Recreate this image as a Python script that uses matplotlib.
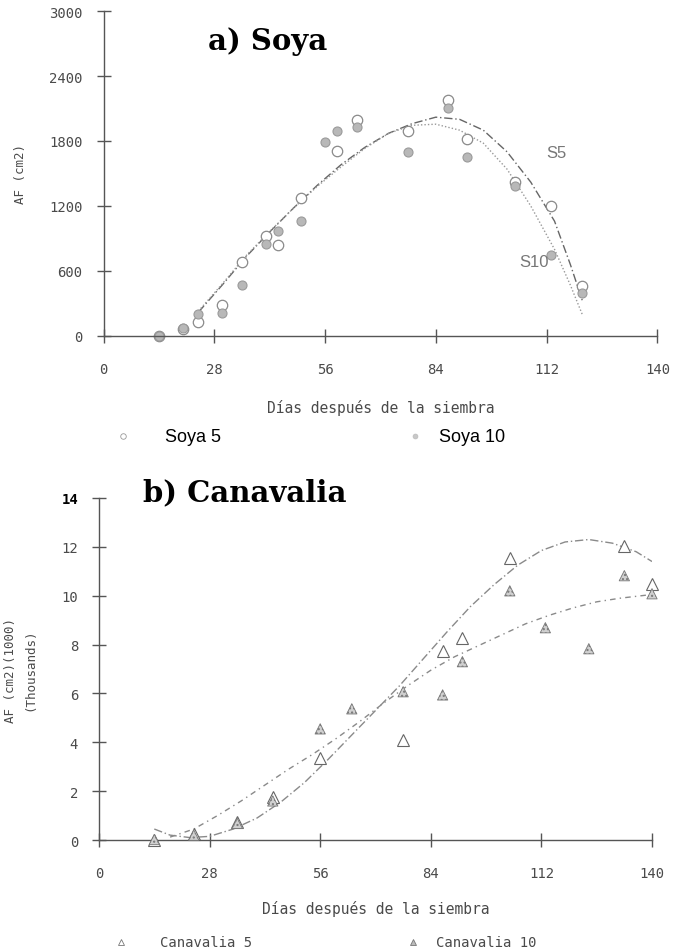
import numpy as np
import matplotlib.pyplot as plt
from matplotlib.lines import Line2D

# %% data
soya_dias = [14, 20, 24, 30, 35, 41, 44, 50, 56, 59, 64, 77, 87, 92, 104, 113, 121]
soya5 = [0, 60, 128, 285, 679, 927, 844, 1275, np.nan, 1706, 1995, 1890, 2183, 1816, 1422, 1202, 459]
soya10 = [0, 73, 202, 211, 468, 853, 972, 1064, 1789, 1890, 1927, 1697, 2101, 1651, 1385, 743, 394]

# fitted curves as drawn in the reference
s_fit_x = [24, 30, 36, 42, 48, 54, 60, 66, 72, 78, 84, 90, 96, 102, 108, 114, 118, 121]
s5_fit = [220, 470, 730, 960, 1180, 1390, 1580, 1740, 1870, 1960, 2020, 2000, 1900, 1700, 1420, 1060, 660, 330]
s10_fit = [230, 480, 740, 965, 1180, 1380, 1560, 1730, 1870, 1945, 1955, 1900, 1780, 1540, 1200, 800, 470, 200]

cana_dias = [14, 24, 35, 44, 56, 64, 77, 87, 92, 104, 113, 124, 133, 140]
cana5 = [0.0, 0.25, 0.75, 1.75, 3.36, np.nan, 4.1, 7.75, 8.28, 11.55, np.nan, np.nan, 12.05, 10.49]
cana10 = [0.02, 0.2, 0.68, 1.6, 4.55, 5.37, 6.07, 5.94, 7.3, 10.2, 8.69, 7.83, 10.82, 10.08]

c5_fit_x = [14, 18, 23, 28, 34, 40, 46, 52, 58, 64, 70, 76, 82, 88, 94, 100, 106, 112, 118, 124, 130, 136, 140]
c5_fit = [0.45, 0.2, 0.1, 0.15, 0.45, 0.9, 1.55, 2.35, 3.3, 4.3, 5.3, 6.3, 7.4, 8.5, 9.55, 10.45, 11.25,
          11.85, 12.2, 12.3, 12.15, 11.8, 11.4]
c10_fit_x = [18, 24, 30, 36, 42, 48, 54, 60, 66, 72, 78, 84, 90, 96, 102, 108, 114, 120, 126, 132, 140]
c10_fit = [0.12, 0.45, 1.0, 1.6, 2.25, 2.9, 3.5, 4.15, 4.85, 5.6, 6.3, 6.95, 7.5, 7.95, 8.4, 8.85, 9.2,
           9.5, 9.75, 9.9, 10.05]

x_ticks = [0, 28, 56, 84, 112, 140]
soya_yticks = [0, 600, 1200, 1800, 2400, 3000]
cana_yticks = [0, 2, 4, 6, 8, 10, 12, 14]

mono = 'DejaVu Sans Mono'
txt_col = '#4a4a4a'


def style_axes(ax):
    for s in ['top', 'right']:
        ax.spines[s].set_visible(False)
    for s in ['left', 'bottom']:
        ax.spines[s].set_color('#555555')
        ax.spines[s].set_linewidth(1.0)
    ax.tick_params(direction='inout', length=10, width=1, color='#555555',
                   labelsize=10, labelcolor=txt_col, pad=10)
    ax.tick_params(axis='x', pad=14)
    for lab in ax.get_xticklabels() + ax.get_yticklabels():
        lab.set_family(mono)
    ax.set_xlim(0, 140)
    ax.set_xticks(x_ticks)


fig = plt.figure(figsize=(6.73, 9.53), dpi=100)

# %% a) Soya
ax1 = fig.add_axes([0.1538, 0.6464, 0.823, 0.341])
ax1.plot(s_fit_x, s5_fit, color='#666666', lw=1.0, ls=(0, (6, 2, 1, 2)))
ax1.plot(s_fit_x, s10_fit, color='#999999', lw=1.0, ls=(0, (1, 1.5)))
ax1.plot(soya_dias, soya5, 'o', ms=7.5, mfc='white', mec='#8a8a8a', mew=0.9, clip_on=False)
ax1.plot(soya_dias, soya10, 'o', ms=6.5, mfc='#b8b8b8', mec='#9a9a9a', mew=0.8, clip_on=False)
ax1.set_ylim(0, 3000)
ax1.set_yticks(soya_yticks)
style_axes(ax1)
ax1.set_ylabel('AF (cm2)', family=mono, fontsize=9, color=txt_col, labelpad=16)
ax1.set_xlabel('Días después de la siembra', family=mono, fontsize=10.5, color=txt_col, labelpad=16)
ax1.text(112, 1650, 'S5', fontsize=12, color='#777777', family='Liberation Sans')
ax1.text(105, 650, 'S10', fontsize=12, color='#777777', family='Liberation Sans')
fig.text(0.398, 0.956, 'a) Soya', family='DejaVu Serif', fontweight='bold', fontsize=21,
         ha='center', va='center')

# legend a
fig.add_artist(Line2D([0.183], [1 - 437 / 953], marker='o', ms=4, mfc='white', mec='#999999',
                      mew=0.6, transform=fig.transFigure))
fig.text(0.245, 1 - 438 / 953, 'Soya 5', fontsize=13, family='Liberation Sans', va='center')
fig.add_artist(Line2D([0.617], [1 - 437 / 953], marker='o', ms=3.5, mfc='#c8c8c8', mec='#bbbbbb',
                      mew=0.5, transform=fig.transFigure))
fig.text(0.653, 1 - 438 / 953, 'Soya 10', fontsize=13, family='Liberation Sans', va='center')

# %% b) Canavalia
ax2 = fig.add_axes([0.1471, 0.1175, 0.8217, 0.3589])
ax2.plot(c5_fit_x, c5_fit, color='#8a8a8a', lw=1.0, ls=(0, (6, 2, 1, 2)))
ax2.plot(c10_fit_x, c10_fit, color='#8a8a8a', lw=1.0, ls=(0, (4, 3, 1, 3)))
ax2.plot(cana_dias, cana5, '^', ms=9, mfc='white', mec='#666666', mew=0.8, clip_on=False)
ax2.scatter(cana_dias, cana10, marker='^', s=55, facecolor='#d0d0d0', edgecolor='#777777',
            hatch='....', linewidths=0.6, clip_on=False, zorder=3)
ax2.set_ylim(0, 14)
ax2.set_yticks(cana_yticks)
style_axes(ax2)
ax2.get_yticklabels()[-1].set_color('black')
ax2.get_yticklabels()[-1].set_fontweight('bold')
ax2.set_ylabel('AF (cm2)(1000)\n(Thousands)', family=mono, fontsize=9, color=txt_col,
               labelpad=18, linespacing=1.6)
ax2.set_xlabel('Días después de la siembra', family=mono, fontsize=10.5, color=txt_col, labelpad=14)
fig.text(0.364, 1 - 493 / 953, 'b) Canavalia', family='DejaVu Serif', fontweight='bold', fontsize=21,
         ha='center', va='center')

# legend b
fig.add_artist(Line2D([0.18], [1 - 943 / 953], marker='^', ms=5, mfc='white', mec='#777777',
                      mew=0.6, transform=fig.transFigure))
fig.text(0.238, 1 - 943 / 953, 'Canavalia 5', fontsize=10, family=mono, color=txt_col, va='center')
fig.add_artist(Line2D([0.614], [1 - 943 / 953], marker='^', ms=5, mfc='#bbbbbb', mec='#777777',
                      mew=0.6, transform=fig.transFigure))
fig.text(0.648, 1 - 943 / 953, 'Canavalia 10', fontsize=10, family=mono, color=txt_col, va='center')

fig.savefig('out.png', dpi=100, facecolor='white')
